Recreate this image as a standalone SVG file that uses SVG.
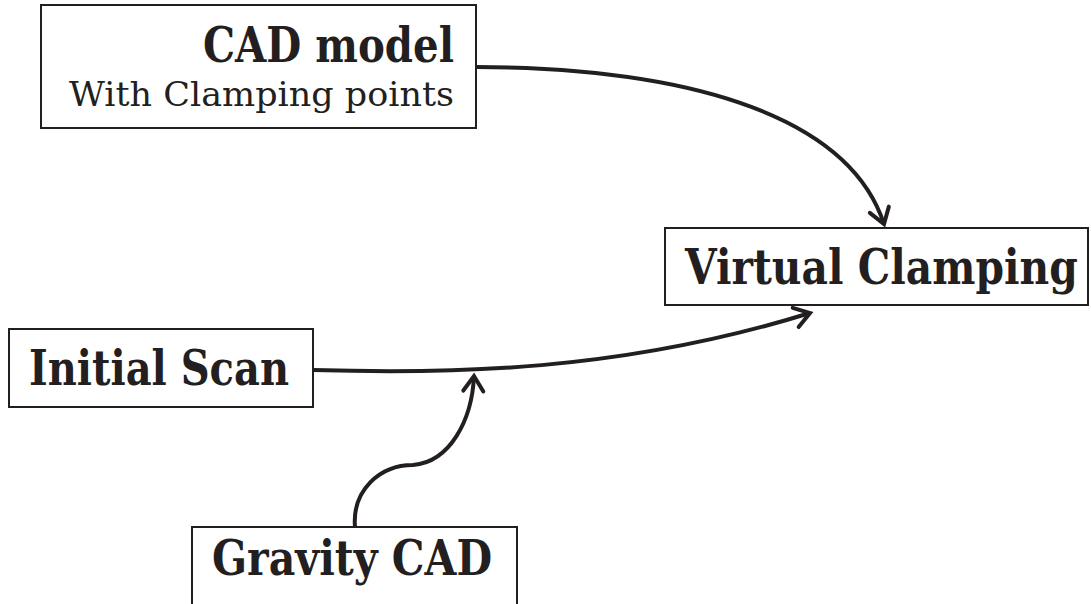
<svg xmlns="http://www.w3.org/2000/svg" width="1091" height="604" viewBox="0 0 1091 604">
<style>
.box{fill:#fff;stroke:#231f20;stroke-width:2}
.b{font-family:"DejaVu Serif","Liberation Serif",serif;font-weight:bold;fill:#231f20;font-size:48px}
.r{font-family:"DejaVu Serif","Liberation Serif",serif;fill:#231f20;font-size:33px}
.c{fill:none;stroke:#231f20;stroke-width:4;marker-end:url(#ah)}
</style>
<defs>
<marker id="ah" markerUnits="userSpaceOnUse" markerWidth="30" markerHeight="30" refX="0" refY="0" viewBox="-20 -15 25 30" orient="auto" overflow="visible">
<path d="M-15,-10 L0,0 L-15,10" fill="none" stroke="#231f20" stroke-width="4" stroke-linecap="round"/>
</marker>
</defs>
<rect width="1091" height="604" fill="#fff"/>
<g id="connectors">
<path class="c" d="M476,67 C 700,68 850,120 884,224"/>
<path class="c" d="M313,370 C 450,374 620,372 810,313"/>
<path class="c" d="M355,527 C 352,490 380,465 413,465 C 450,462 472,420 474,376"/>
</g>
<g id="cad-model">
<rect class="box" x="41" y="5" width="435" height="123"/>
<text class="b" x="454" y="62" text-anchor="end" textLength="251" lengthAdjust="spacingAndGlyphs">CAD model</text>
<text class="r" x="454" y="106" text-anchor="end" textLength="385" lengthAdjust="spacingAndGlyphs">With Clamping points</text>
</g>
<g id="virtual-clamping">
<rect class="box" x="665" y="228" width="423" height="77"/>
<text class="b" transform="translate(685,284) scale(0.8,1)" x="0" y="0" textLength="491" lengthAdjust="spacingAndGlyphs">Virtual Clamping</text>
</g>
<g id="initial-scan">
<rect class="box" x="9" y="329" width="304" height="78"/>
<text class="b" x="29" y="385" textLength="260" lengthAdjust="spacingAndGlyphs">Initial Scan</text>
</g>
<g id="gravity-cad">
<rect class="box" x="192" y="527" width="325" height="90"/>
<text class="b" x="212" y="575" textLength="280" lengthAdjust="spacingAndGlyphs">Gravity CAD</text>
</g>
</svg>
